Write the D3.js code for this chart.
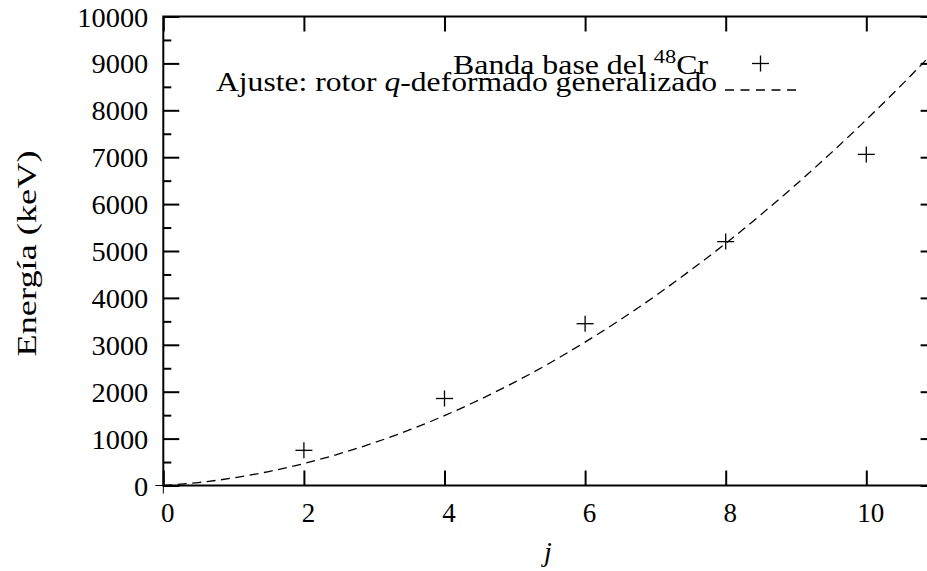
<!DOCTYPE html>
<html>
<head>
<meta charset="utf-8">
<script src="https://cdn.jsdelivr.net/npm/d3@7"></script>
<style>
  html, body { margin: 0; padding: 0; background: #fff; }
  svg { display: block; }
  text { font-family: "Liberation Serif", "Times New Roman", serif; fill: #000; }
</style>
</head>
<body>
<svg id="chart" width="927" height="571"></svg>
<script>
// Ground-state band of 48Cr (keV) by angular momentum j
const bandJ = [2, 4, 6, 8, 10];
const bandE = [750, 1855, 3450, 5200, 7060];

// Generalized q-deformed rotor fit, tabulated along j
const fitJ = [0, 0.5, 1, 1.5, 2, 2.5, 3, 3.5, 4, 4.5, 5, 5.5, 6, 6.5, 7, 7.5, 8, 8.5, 9, 9.5, 10, 10.5, 11];
const fitE = [0, 63, 162, 298, 468, 674, 912, 1184, 1490, 1831, 2205, 2613, 3058, 3534, 4043, 4590, 5162, 5774, 6417, 7092, 7799, 8537, 9306];

const xTicks = [0, 2, 4, 6, 8, 10];
const yTicks = [0, 1000, 2000, 3000, 4000, 5000, 6000, 7000, 8000, 9000, 10000];
const yMinor = [500, 1500, 2500, 3500, 4500, 5500, 6500, 7500, 8500, 9500];

const svg = d3.select("#chart");
const pLeft = 163.3, pRight = 936.6, pTop = 16.5, pBottom = 485.5;

const x = d3.scaleLinear().domain([0, 11]).range([pLeft, pRight]);
const y = d3.scaleLinear().domain([0, 10000]).range([pBottom, pTop]);

const FS = 27;

// clip region for the plotted data
svg.append("defs").append("clipPath").attr("id", "plotclip")
  .append("rect").attr("x", pLeft).attr("y", pTop)
  .attr("width", pRight - pLeft).attr("height", pBottom - pTop);

// fit curve
const line = d3.line().x((d, i) => x(fitJ[i])).y(d => y(d)).curve(d3.curveMonotoneX);
svg.append("path")
  .datum(fitE)
  .attr("clip-path", "url(#plotclip)")
  .attr("d", line)
  .attr("fill", "none")
  .attr("stroke", "#000")
  .attr("stroke-width", 1.3)
  .attr("stroke-dasharray", "9,5.5");

// data points as plus marks
const plus = (g, cx, cy) => {
  g.append("line").attr("x1", cx - 8.5).attr("x2", cx + 8.5).attr("y1", cy).attr("y2", cy);
  g.append("line").attr("x1", cx).attr("x2", cx).attr("y1", cy - 8).attr("y2", cy + 8);
};
const pts = svg.append("g").attr("stroke", "#000").attr("stroke-width", 1.3);
bandJ.forEach((j, i) => plus(pts, x(j), y(bandE[i])));

// axes: bottom and left with inward ticks, mirrored on top and right
const axBottom = d3.axisBottom(x).tickValues(xTicks).tickSizeInner(-15).tickSizeOuter(0).tickFormat(d3.format("d"));
const axTop = d3.axisTop(x).tickValues(xTicks).tickSizeInner(-15).tickSizeOuter(0).tickFormat("");
const axLeft = d3.axisLeft(y).tickValues(yTicks).tickSizeInner(-16).tickSizeOuter(0).tickFormat(d3.format("d"));
const axRight = d3.axisRight(y).tickValues(yTicks).tickSizeInner(-16).tickSizeOuter(0).tickFormat("");
const axLeftMinor = d3.axisLeft(y).tickValues(yMinor).tickSizeInner(-8).tickSizeOuter(0).tickFormat("");
const axRightMinor = d3.axisRight(y).tickValues(yMinor).tickSizeInner(-8).tickSizeOuter(0).tickFormat("");

function styleAxis(g) {
  g.select(".domain").remove();
  g.selectAll(".tick line").attr("stroke", "#000").attr("stroke-width", 2);
  g.selectAll(".tick text").style("font-family", '"Liberation Serif", serif').style("font-size", FS + "px").attr("fill", "#000");
}

const gB = svg.append("g").attr("transform", `translate(0,${pBottom})`).call(axBottom).call(styleAxis);
gB.selectAll(".tick text").attr("y", 36.5).attr("dy", 0).attr("dx", 4);
svg.append("g").attr("transform", `translate(0,${pTop})`).call(axTop).call(styleAxis);
const gL = svg.append("g").attr("transform", `translate(${pLeft},0)`).call(axLeft).call(styleAxis);
gL.selectAll(".tick text").attr("x", -15).attr("dy", 0).attr("y", 9.5)
  .each(function(d) { const s = String(d); d3.select(this).attr("textLength", 14.2 * s.length).attr("lengthAdjust", "spacingAndGlyphs"); });
svg.append("g").attr("transform", `translate(${pRight},0)`).call(axRight).call(styleAxis);
svg.append("g").attr("transform", `translate(${pLeft},0)`).call(axLeftMinor).call(styleAxis);
svg.append("g").attr("transform", `translate(${pRight},0)`).call(axRightMinor).call(styleAxis);

// frame
svg.append("rect").attr("x", pLeft).attr("y", pTop)
  .attr("width", pRight - pLeft).attr("height", pBottom - pTop)
  .attr("fill", "none").attr("stroke", "#000").attr("stroke-width", 2);

// small outward marks at the origin
svg.append("line").attr("x1", pLeft - 8).attr("x2", pLeft).attr("y1", y(0)).attr("y2", y(0)).attr("stroke", "#000").attr("stroke-width", 1);
svg.append("line").attr("x1", x(0)).attr("x2", x(0)).attr("y1", pBottom).attr("y2", pBottom + 8).attr("stroke", "#000").attr("stroke-width", 1);

// axis titles
svg.append("text")
  .attr("transform", "translate(36,253.5) rotate(-90)")
  .attr("text-anchor", "middle")
  .attr("textLength", 206)
  .attr("lengthAdjust", "spacingAndGlyphs")
  .style("font-size", "28px")
  .text("Energía (keV)");
svg.append("text")
  .attr("x", 548).attr("y", 561)
  .attr("text-anchor", "middle")
  .style("font-size", "28px")
  .style("font-style", "italic")
  .text("j");

// legend
const t1 = svg.append("text").attr("x", 708).attr("y", 74).attr("text-anchor", "end")
  .attr("textLength", 255).attr("lengthAdjust", "spacingAndGlyphs").style("font-size", FS + "px");
t1.append("tspan").text("Banda base del ");
t1.append("tspan").attr("dy", -11).style("font-size", "19px").text("48");
t1.append("tspan").attr("dy", 11).text("Cr");
const lg = svg.append("g").attr("stroke", "#000").attr("stroke-width", 1.3);
plus(lg, 760.5, 63.5);

const t2 = svg.append("text").attr("x", 717).attr("y", 91).attr("text-anchor", "end")
  .attr("textLength", 501).attr("lengthAdjust", "spacingAndGlyphs").style("font-size", FS + "px");
t2.append("tspan").text("Ajuste: rotor ");
t2.append("tspan").style("font-style", "italic").text("q");
t2.append("tspan").text("-deformado generalizado");
svg.append("line").attr("x1", 725).attr("x2", 796).attr("y1", 90).attr("y2", 90)
  .attr("stroke", "#000").attr("stroke-width", 1.3).attr("stroke-dasharray", "9,6.5");
</script>
</body>
</html>
